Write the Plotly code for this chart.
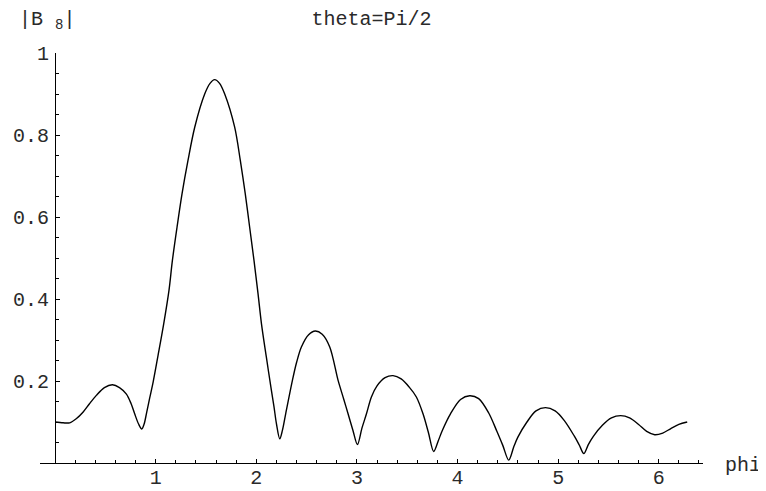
import plotly.graph_objects as go

# |B_8| vs phi
phi = [0.00, 0.08, 0.145, 0.21, 0.277, 0.34, 0.41, 0.49, 0.57, 0.64, 0.709,
       0.755, 0.791, 0.83, 0.862, 0.885, 0.91, 0.94, 0.975, 1.023, 1.08,
       1.132, 1.166, 1.212, 1.262, 1.321, 1.388, 1.487, 1.54, 1.586, 1.635,
       1.686, 1.785, 1.841, 1.89, 1.934, 1.977, 2.017, 2.051, 2.10, 2.15,
       2.176, 2.20, 2.233,
       2.26, 2.292, 2.359, 2.40, 2.448, 2.52, 2.587, 2.655, 2.73, 2.813,
       2.87, 2.912, 2.96, 3.005,
       3.05, 3.095, 3.144, 3.20, 3.28, 3.359, 3.44, 3.52, 3.591, 3.657,
       3.71, 3.763,
       3.81, 3.85, 3.93, 4.03, 4.121, 4.21, 4.31, 4.39, 4.45, 4.509,
       4.56, 4.60, 4.69, 4.78, 4.874, 4.97, 5.06, 5.16, 5.21, 5.255,
       5.30, 5.35, 5.44, 5.53, 5.622, 5.71, 5.80, 5.88, 5.96, 6.04,
       6.12, 6.20, 6.283]
b8 = [0.100, 0.098, 0.098, 0.108, 0.124, 0.144, 0.165, 0.184, 0.191, 0.184, 0.168,
      0.145, 0.120, 0.095, 0.083, 0.095, 0.123, 0.158, 0.198, 0.262, 0.340,
      0.421, 0.494, 0.575, 0.657, 0.738, 0.819, 0.900, 0.926, 0.935, 0.926,
      0.900, 0.819, 0.738, 0.657, 0.575, 0.494, 0.413, 0.340, 0.258, 0.177,
      0.137, 0.096, 0.059,
      0.080, 0.120, 0.2015, 0.245, 0.283, 0.313, 0.322, 0.314, 0.283, 0.2015,
      0.155, 0.120, 0.080, 0.045,
      0.085, 0.120, 0.161, 0.188, 0.208, 0.213, 0.205, 0.185, 0.161, 0.120,
      0.075, 0.028,
      0.055, 0.080, 0.120, 0.155, 0.164, 0.157, 0.122, 0.078, 0.043, 0.007,
      0.040, 0.063, 0.100, 0.127, 0.135, 0.127, 0.104, 0.066, 0.044, 0.023,
      0.045, 0.065, 0.092, 0.110, 0.1155, 0.110, 0.094, 0.077, 0.069, 0.073,
      0.084, 0.094, 0.100]

x_ticks = [1, 2, 3, 4, 5, 6]
y_ticks = [0.2, 0.4, 0.6, 0.8, 1.0]
y_labels = ["0.2", "0.4", "0.6", "0.8", "1"]

FONT = "Liberation Mono, Courier New, monospace"
TXT = "#2a2a2a"
xr = [-0.15, 6.44]

# the page body has an 8px margin, so the figure is drawn 8px smaller
W, H = 758, 483

fig = go.Figure(go.Scatter(
    x=phi, y=b8, mode="lines",
    line=dict(color="black", width=1.4, shape="spline", smoothing=0.9),
    hoverinfo="skip"))

fig.update_layout(
    width=W, height=H,
    margin=dict(l=32, r=63, t=45, b=28),
    plot_bgcolor="white", paper_bgcolor="white",
    showlegend=False,
    font=dict(family=FONT, size=20, color=TXT),
    title=dict(text="theta=Pi/2", x=0.5, xref="paper", y=1 - 10 / H,
               yanchor="middle", font=dict(family=FONT, size=20, color=TXT)),
)

fig.update_xaxes(
    range=xr, showgrid=False, zeroline=False, automargin=False,
    showline=True, linecolor="black", linewidth=1,
    ticks="inside", ticklen=4, tickcolor="black",
    tickvals=x_ticks, ticklabelstandoff=-4,
    minor=dict(dtick=0.2, tick0=0, ticks="inside", ticklen=3, tickcolor="black"),
)

fig.update_yaxes(
    range=[0, 1.0], showgrid=False, zeroline=False, automargin=False,
    anchor="free", position=(0 - xr[0]) / (xr[1] - xr[0]), side="left",
    showline=True, linecolor="black", linewidth=1,
    ticks="inside", ticklen=4, tickcolor="black",
    tickvals=y_ticks, ticktext=y_labels, ticklabelstandoff=2,
    minor=dict(dtick=0.05, tick0=0, ticks="inside", ticklen=3, tickcolor="black"),
)

fig.add_annotation(text="phi", xref="paper", yref="paper", x=1, y=0,
                   xanchor="left", yanchor="middle", xshift=20, yshift=-2,
                   showarrow=False, font=dict(family=FONT, size=20, color=TXT))
fig.add_annotation(text="|B <sub>8</sub>|", xref="paper", yref="paper", x=0, y=1,
                   xanchor="center", yanchor="middle", xshift=7, yshift=33,
                   showarrow=False, font=dict(family=FONT, size=20, color=TXT))

fig.write_html("out.html")
